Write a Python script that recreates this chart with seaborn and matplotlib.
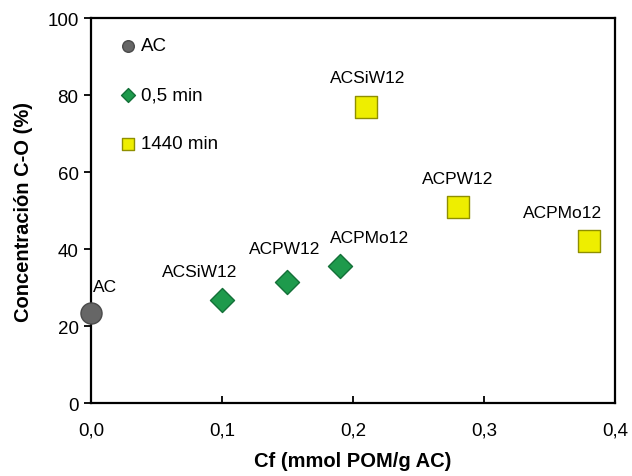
import matplotlib
matplotlib.use("Agg")
import matplotlib.pyplot as plt
import seaborn as sns
import pandas as pd

sns.set_theme(style="white")
plt.rcParams['font.family'] = ['Liberation Sans', 'DejaVu Sans']
plt.rcParams['text.color'] = 'black'
plt.rcParams['axes.labelcolor'] = 'black'
plt.rcParams['xtick.color'] = 'black'
plt.rcParams['ytick.color'] = 'black'

# Data
ac_x = [0.0]
ac_y = [23.4]
ac_labels = ["AC"]
short_x = [0.10, 0.15, 0.19]
short_y = [26.8, 31.4, 35.6]
short_labels = ["ACSiW12", "ACPW12", "ACPMo12"]
long_x = [0.21, 0.28, 0.38]
long_y = [76.9, 50.9, 42.1]
long_labels = ["ACSiW12", "ACPW12", "ACPMo12"]
series_names = ["AC", "0,5 min", "1440 min"]

df = pd.DataFrame({
    "x": ac_x + short_x + long_x,
    "y": ac_y + short_y + long_y,
    "serie": [series_names[0]] * len(ac_x) + [series_names[1]] * len(short_x) + [series_names[2]] * len(long_x),
    "label": ac_labels + short_labels + long_labels,
})

fig = plt.figure(figsize=(6.32, 4.77), dpi=100)
ax = fig.add_axes([0.144, 0.153, 0.829, 0.807])

palette = {"AC": "#666666", "0,5 min": "#1e9a4c", "1440 min": "#eeee00"}
edges = {"AC": "#4a4a4a", "0,5 min": "#137038", "1440 min": "#8f8f00"}
markers = {"AC": "o", "0,5 min": "D", "1440 min": "s"}
sizes = {"AC": 230, "0,5 min": 150, "1440 min": 230}
leg_sizes = {"AC": 70, "0,5 min": 50, "1440 min": 70}

for name in series_names:
    sub = df[df["serie"] == name]
    sns.scatterplot(data=sub, x="x", y="y", ax=ax, color=palette[name],
                    marker=markers[name], s=sizes[name], edgecolor=edges[name],
                    linewidth=1.0, label=name, clip_on=False, zorder=3)

# point labels (offsets in points)
offsets = {
    ("AC", "AC"): (10, 16),
    ("0,5 min", "ACSiW12"): (-16, 17),
    ("0,5 min", "ACPW12"): (-2, 21),
    ("0,5 min", "ACPMo12"): (21, 17),
    ("1440 min", "ACSiW12"): (1, 18),
    ("1440 min", "ACPW12"): (0, 17),
    ("1440 min", "ACPMo12"): (-19, 17),
}
for _, r in df.iterrows():
    dx, dy = offsets[(r["serie"], r["label"])]
    ax.annotate(r["label"], (r["x"], r["y"]), xytext=(dx, dy), textcoords="offset points",
                ha="center", va="baseline", fontsize=12.5, color="black")

ax.set_xlim(0, 0.4)
ax.set_ylim(0, 100)
ax.set_xticks([0.0, 0.1, 0.2, 0.3, 0.4])
ax.set_xticklabels(["0,0", "0,1", "0,2", "0,3", "0,4"])
ax.set_yticks([0, 20, 40, 60, 80, 100])
ax.set_yticklabels(["0", "20", "40", "60", "80", "100"])
ax.tick_params(axis="x", direction="in", length=5, width=1.3, labelsize=13.5, pad=13, bottom=True)
ax.tick_params(axis="y", direction="out", length=5, width=1.3, labelsize=13.5, pad=4, left=True)
for sp in ax.spines.values():
    sp.set_color("black")
    sp.set_linewidth(1.6)

ax.set_xlabel("Cf (mmol POM/g AC)", fontsize=14.5, fontweight="bold", labelpad=9)
ax.set_ylabel("Concentración C-O (%)", fontsize=14.5, fontweight="bold", labelpad=10)

leg = ax.legend(loc="upper left", bbox_to_anchor=(0.053, 0.95), frameon=False, fontsize=13.5,
                labelspacing=1.7, handlelength=1.0, handletextpad=0.2,
                borderaxespad=0.0, borderpad=0.0)
for h, name in zip(leg.legend_handles, series_names):
    h.set_sizes([leg_sizes[name]])

fig.savefig("out.png", dpi=100)
